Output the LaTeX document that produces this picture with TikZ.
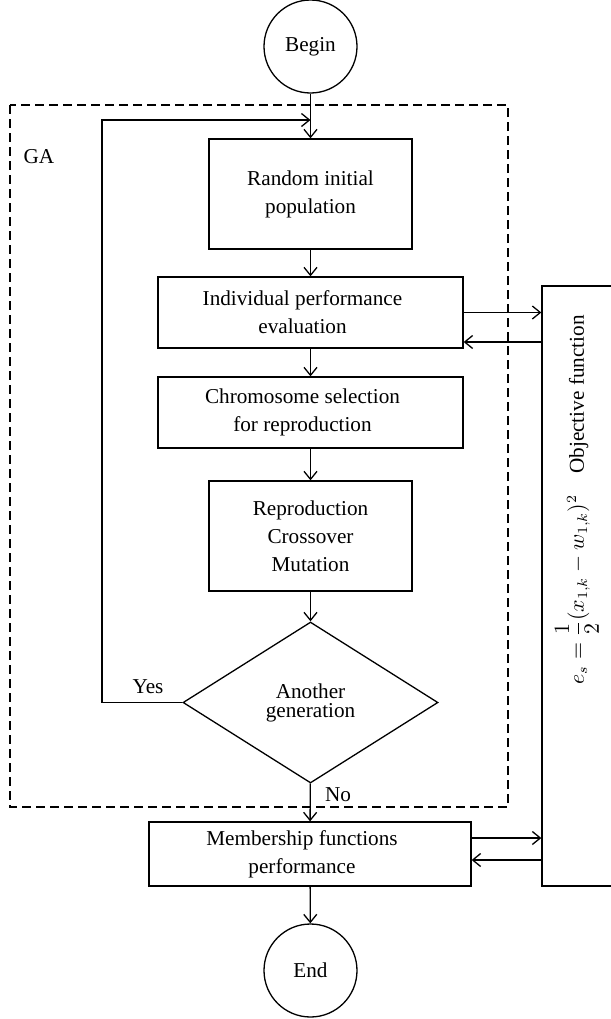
\documentclass[tikz,border=0pt]{standalone}
\usepackage{amsmath}
\usepackage{fontspec}
\setmainfont{Liberation Serif}
\usetikzlibrary{shapes.geometric,arrows.meta}
\begin{document}
\begin{tikzpicture}[x=0.5pt,y=-0.5pt,
  every node/.style={font=\fontsize{10.6}{14}\selectfont},
  line/.style={line width=0.65pt},
  box/.style={draw,line width=0.65pt,rectangle,inner sep=0pt,align=center},
  txt/.style={align=center,inner sep=0pt},
  term/.style={draw,line width=0.65pt,circle,minimum size=46.5pt,inner sep=0pt},
  dec/.style={draw,line width=0.65pt,diamond,minimum width=127.5pt,minimum height=80.5pt,inner sep=0pt,align=center,font=\fontsize{10.6}{9.5}\selectfont},
  arr/.style={line width=0.65pt,-{Straight Barb[length=4pt,width=6.5pt]}},
  dashbox/.style={line width=0.65pt,dash pattern=on 4.5pt off 2.5pt}
]
\useasboundingbox (0,0) rectangle (611,1019);
\clip (0,0) rectangle (611,1019);

% GA region
\draw[dashbox] (10,105) rectangle (508,807);
\node (ga) at (39,157) {GA};

% nodes
\node[term] (begin) at (310.5,46.5) {Begin};
\node[box,minimum width=101.5pt,minimum height=55pt] (rand) at (310.5,194) {Random initial\\population};
\node[box,minimum width=152.5pt,minimum height=35.5pt] (indiv) at (310.5,312.5) {};
\node[txt] (indivt) at ([xshift=-4pt]indiv.center) {Individual performance\\evaluation};
\node[box,minimum width=152.5pt,minimum height=35.5pt] (chrom) at (310.5,412.5) {};
\node[txt] (chromt) at ([xshift=-4pt]chrom.center) {Chromosome selection\\for reproduction};
\node[box,minimum width=101.5pt,minimum height=55pt] (repro) at (310.5,536) {Reproduction\\Crossover\\Mutation};
\node[dec] (dec) at (310.5,702.5) {Another\\generation};
\node[box,minimum width=161pt,minimum height=32pt] (memb) at (310,854) {};
\node[txt] (membt) at ([xshift=-4pt]memb.center) {Membership functions\\performance};
\node[term] (end) at (310.5,970.5) {End};

% objective function block
\node[draw,line width=0.65pt,rectangle,inner sep=0pt,minimum width=40pt,minimum height=300pt] (obj) at (582,586) {};
\node[rotate=90] (objt) at (577,500) {$e_s = \dfrac{1}{2}(x_{1,k} - w_{1,k})^2$\quad Objective function};

% main flow
\draw[arr] (begin) -- (rand);
\draw[arr] (rand) -- (indiv);
\draw[arr] (indiv) -- (chrom);
\draw[arr] (chrom) -- (repro);
\draw[arr] (repro) -- (dec);
\draw[arr] (dec) -- (memb);
\draw[arr] (memb) -- (end);

% loop back (Yes)
\coordinate (lc) at (102,120);
\draw[arr] (dec.west) -- (dec.west -| lc) -- (lc) -- (lc -| begin);
\node (yes) at (148,687) {Yes};
\node (no) at (338,795) {No};

% links with objective function
\draw[arr] (indiv.east) -- (indiv.east -| obj.west);
\coordinate (ib) at ([yshift=-14.75pt]indiv.east);
\draw[arr] (ib -| obj.west) -- (ib);
\coordinate (mt) at ([yshift=8pt]memb.east);
\coordinate (mb) at ([yshift=-3pt]memb.east);
\draw[arr] (mt) -- (mt -| obj.west);
\draw[arr] (mb -| obj.west) -- (mb);
\end{tikzpicture}
\end{document}
